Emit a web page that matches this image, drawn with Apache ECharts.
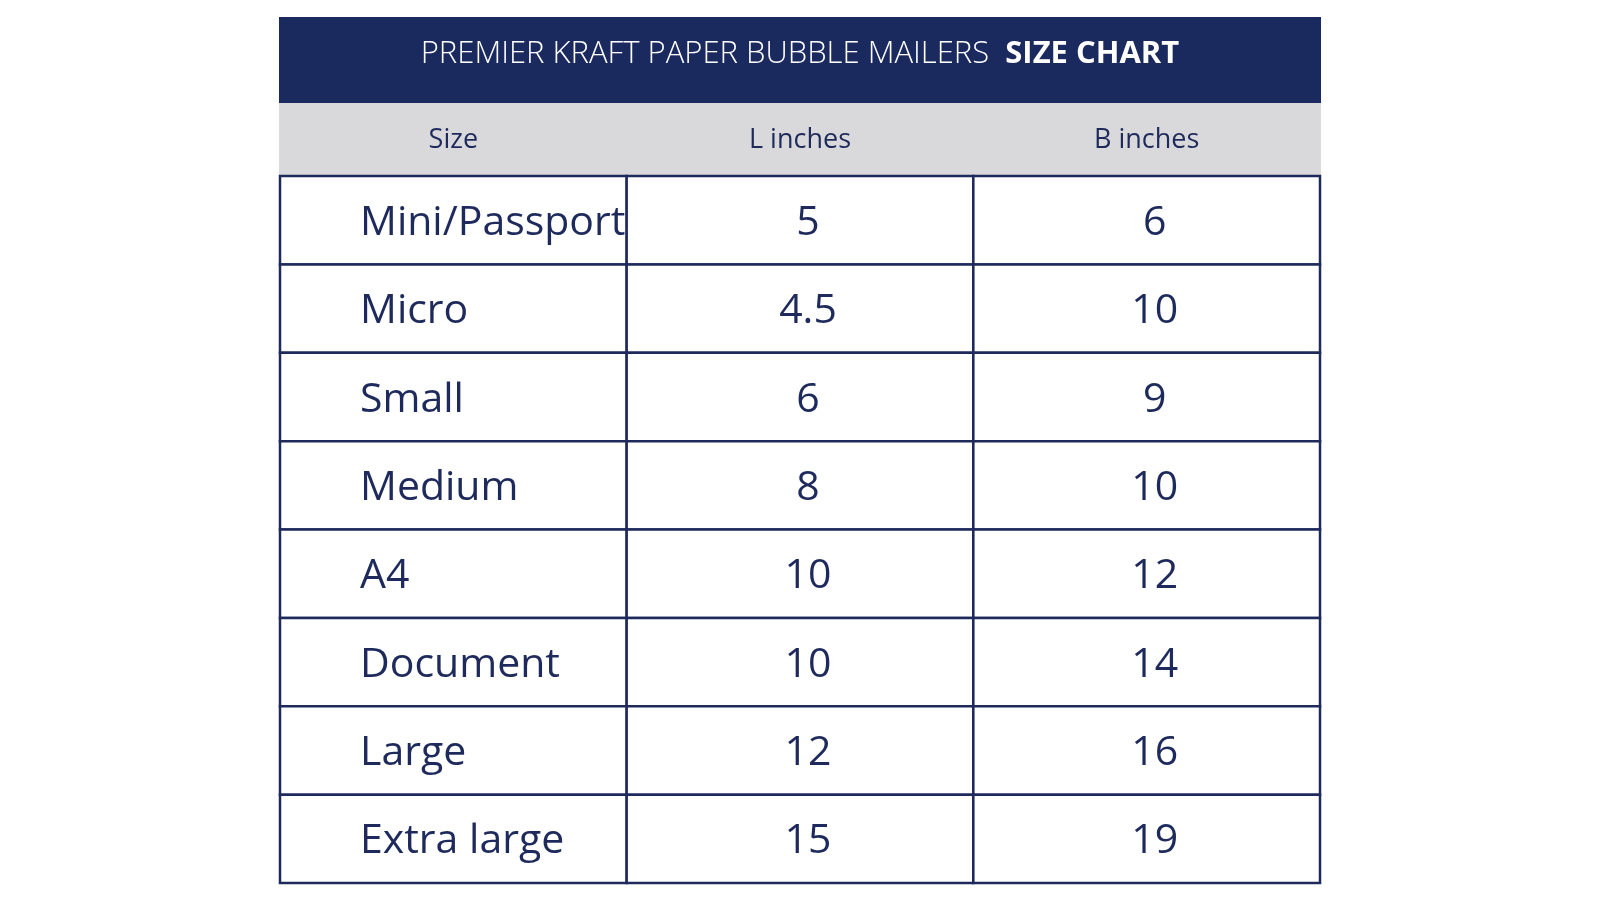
<!DOCTYPE html>
<html><head><meta charset="utf-8">
<script src="https://cdn.jsdelivr.net/npm/echarts@6/dist/echarts.min.js"></script>
<style>html,body{margin:0;padding:0;background:#fff}#c{width:1600px;height:900px}</style>
</head><body><div id="c"></div>
<script>
const columns = ['Size', 'L inches', 'B inches'];
const sizes = ['Mini/Passport', 'Micro', 'Small', 'Medium', 'A4', 'Document', 'Large', 'Extra large'];
const lengths = ['5', '4.5', '6', '8', '10', '10', '12', '15'];
const widths = ['6', '10', '9', '10', '12', '14', '16', '19'];

const navy = '#1e2a5c';
const cells = [];
sizes.forEach((s, i) => {
  cells.push([0, i, s]);
  cells.push([1, i, lengths[i]]);
  cells.push([2, i, widths[i]]);
});

const chart = echarts.init(document.getElementById('c'));
chart.setOption({
  animation: false,
  grid: { left: 280, top: 176, width: 1040, height: 707 },
  xAxis: {
    type: 'category', data: columns, position: 'top',
    axisLine: { show: false }, axisTick: { show: false },
    axisLabel: { margin: 22, fontSize: 27, color: navy, fontFamily: 'Open Sans' }
  },
  yAxis: { type: 'category', data: sizes, inverse: true, show: false },
  graphic: [
    { type: 'rect', z: -1, shape: { x: 279, y: 17, width: 1042, height: 86 }, style: { fill: '#1b2a5e' } },
    { type: 'rect', z: -1, shape: { x: 279, y: 103, width: 1042, height: 72 }, style: { fill: '#d9d9db' } },
    { type: 'text', left: 'center', top: 39, style: {
        fill: '#fff',
        rich: {
          a: { fontSize: 31, fill: '#fff', fontFamily: 'Open Sans', fontWeight: 300 },
          b: { fontSize: 31, fill: '#fff', fontFamily: 'Open Sans', fontWeight: 'bold' }
        },
        text: '{a|PREMIER KRAFT PAPER BUBBLE MAILERS  }{b|SIZE CHART}'
      } }
  ],
  series: [{
    type: 'custom',
    data: cells,
    renderItem: function (params, api) {
      const j = api.value(0), i = api.value(1);
      const p = api.coord([j, i]);
      const s = api.size([1, 1]);
      const x0 = p[0] - s[0] / 2, y0 = p[1] - s[1] / 2;
      const txt = cells[params.dataIndex][2];
      return {
        type: 'group',
        children: [
          { type: 'rect', shape: { x: x0, y: y0, width: s[0], height: s[1] },
            style: { fill: '#fff', stroke: navy, lineWidth: 2.5 } },
          { type: 'text', style: {
              x: j === 0 ? x0 + 80 : p[0] + 8, y: p[1] + 3,
              text: txt, fill: navy, fontSize: 41, fontFamily: 'Open Sans',
              align: j === 0 ? 'left' : 'center', verticalAlign: 'middle'
            } }
        ]
      };
    }
  }]
});
</script></body></html>
